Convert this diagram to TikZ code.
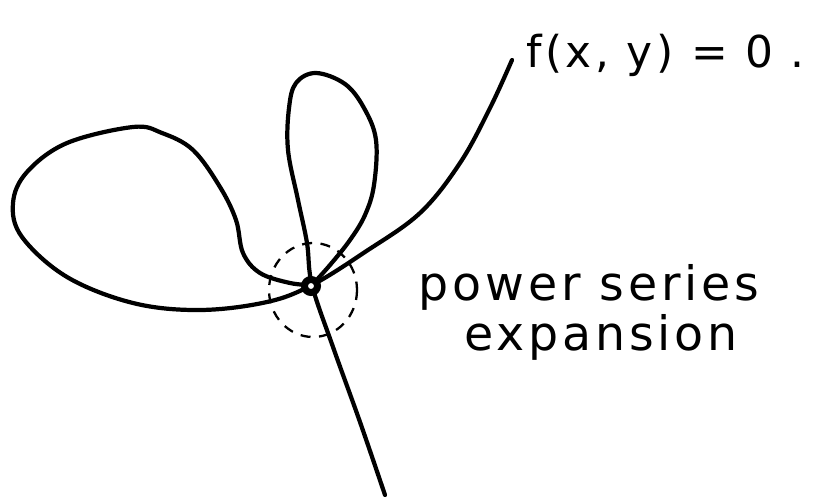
\documentclass[tikz,border=0pt]{standalone}
\usepackage{fontspec}
\newfontfamily\handfont{DejaVu Sans}[LetterSpace=8.0]
\usetikzlibrary{positioning}

\begin{document}
\begin{tikzpicture}[
  x=0.02cm, y=-0.02cm,
  curve/.style={line width=2.4pt,line cap=round,line join=round},
  nbhd/.style={line width=1.3pt,dash pattern=on 0.2cm off 0.17cm},
  crossing/.style={circle,draw,fill=white,line width=4pt,inner sep=0pt,minimum size=0.26cm},
  handtext/.style={inner sep=0pt,anchor=base},
]
  \useasboundingbox (0,0) rectangle (827,497);

  % Branch from the label down into the point, then round the big left loop
  \draw[curve] plot[smooth,tension=0.6] coordinates {
    (512,60) (490,108) (460,163) (420,213) (365,252) (312,285)
    (267,302) (200,310) (133,303) (67,277) (22,237) (13,203) (27,172)
    (67,143) (133,127) (162,133) (193,150) (220,187) (236,220)
    (243,253) (260,273) (290,283) (312,285)};

  % Upper petal and the branch going down
  \draw[curve] plot[smooth,tension=0.6] coordinates {
    (312,285) (330,265) (350,240) (365,215) (374,185) (376,140)
    (364,108) (345,84) (316,73) (296,83) (289,108) (288,150)
    (298,200) (307,243) (312,285) (333,347) (360,422) (385,495)};

  % Neighbourhood of the singular point
  \draw[nbhd] (313,290) ellipse [x radius=44,y radius=47];
  \node[crossing] (sing) at (311,286) {};

  % Labels
  \node[handtext,anchor=base west,font=\handfont\fontsize{25}{25}\selectfont]
    (eq) at (526,67) {f(x, y) = 0 .};
  \node[handtext,font=\handfont\fontsize{27}{27}\selectfont]
    (series) at (589,300) {power series};
  \node[handtext,font=\handfont\fontsize{27}{27}\selectfont]
    (expansion) at (601,350) {expansion};
\end{tikzpicture}
\end{document}
